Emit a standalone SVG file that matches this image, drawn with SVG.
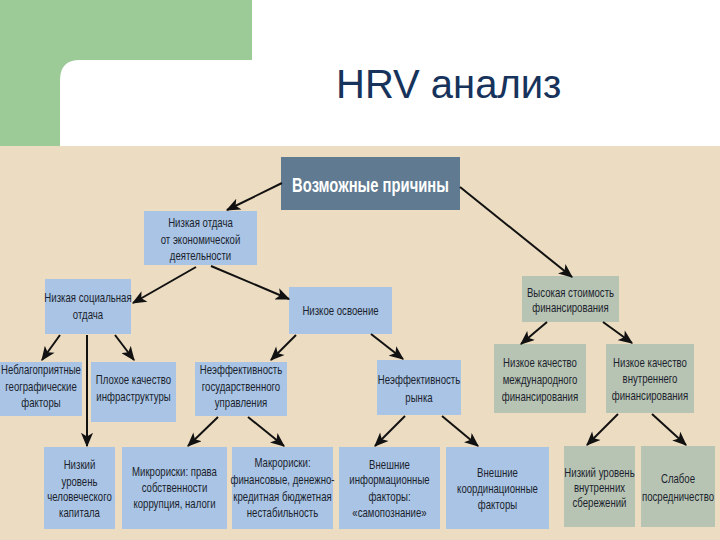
<svg xmlns="http://www.w3.org/2000/svg" width="720" height="540" viewBox="0 0 720 540">
<style>
.bg{fill:#ecdcc2}
.b{fill:#a9c4e4}
.g{fill:#b8c4b3}
.top{fill:#5f7a91}
.t{font-family:"Liberation Sans",Arial,sans-serif;font-size:13px;fill:#1b1f2e;text-anchor:middle}
.tt{font-family:"Liberation Sans",Arial,sans-serif;font-size:20px;font-weight:bold;fill:#ffffff;text-anchor:middle}
.title{font-family:"Liberation Sans",Arial,sans-serif;font-size:40px;fill:#17335c}
.c line{stroke:#111;stroke-width:2;marker-end:url(#ah)}
</style>
<defs>
<marker id="ah" viewBox="0 0 12 10" refX="11" refY="5" markerWidth="15" markerHeight="12" orient="auto" markerUnits="userSpaceOnUse">
<path d="M0,0 L12,5 L0,10 L3,5 z" fill="#111"/>
</marker>
</defs>
<rect x="0" y="0" width="720" height="540" fill="#ffffff"/>
<rect x="0" y="0" width="252" height="147" fill="#9ccb98"/>
<path d="M60,147 V80 Q60,60 80,60 H720 V147 Z" fill="#ffffff"/>
<rect class="bg" x="0" y="146" width="720" height="394"/>
<text class="title" x="336" y="98">HRV анализ</text>

<g id="n0"><rect class="top" x="281" y="157" width="179" height="53"/><g transform="translate(370.5 0) scale(0.74 1)"><text class="tt" x="0" y="192">Возможные причины</text></g></g>
<g id="n1"><rect class="b" x="144" y="211" width="113" height="54"/><g transform="translate(200.5 0) scale(0.74 1)"><text class="t" x="0" y="227">Низкая отдача</text><text class="t" x="0" y="244">от экономической</text><text class="t" x="0" y="260">деятельности</text></g></g>
<g id="n2"><rect class="b" x="45" y="279" width="86" height="55"/><g transform="translate(88 0) scale(0.74 1)"><text class="t" x="0" y="302">Низкая социальная</text><text class="t" x="0" y="319">отдача</text></g></g>
<g id="n3"><rect class="b" x="289" y="287" width="103" height="47"/><g transform="translate(340.5 0) scale(0.74 1)"><text class="t" x="0" y="315">Низкое освоение</text></g></g>
<g id="n4"><rect class="g" x="522" y="276" width="97" height="46"/><g transform="translate(570.5 0) scale(0.74 1)"><text class="t" x="0" y="297">Высокая стоимость</text><text class="t" x="0" y="312">финансирования</text></g></g>
<g id="n5"><rect class="b" x="0" y="362" width="82" height="54"/><g transform="translate(41 0) scale(0.74 1)"><text class="t" x="0" y="374">Неблагоприятные</text><text class="t" x="0" y="391">географические</text><text class="t" x="0" y="407">факторы</text></g></g>
<g id="n6"><rect class="b" x="91" y="362" width="85" height="60"/><g transform="translate(133.5 0) scale(0.74 1)"><text class="t" x="0" y="384">Плохое качество</text><text class="t" x="0" y="401">инфраструктуры</text></g></g>
<g id="n7"><rect class="b" x="195" y="362" width="92" height="54"/><g transform="translate(241 0) scale(0.74 1)"><text class="t" x="0" y="374">Неэффективность</text><text class="t" x="0" y="391">государственного</text><text class="t" x="0" y="407">управления</text></g></g>
<g id="n8"><rect class="b" x="377" y="360" width="84" height="55"/><g transform="translate(419 0) scale(0.74 1)"><text class="t" x="0" y="384">Неэффективность</text><text class="t" x="0" y="402">рынка</text></g></g>
<g id="n9"><rect class="g" x="494" y="344" width="92" height="69"/><g transform="translate(540 0) scale(0.74 1)"><text class="t" x="0" y="367">Низкое качество</text><text class="t" x="0" y="384">международного</text><text class="t" x="0" y="401">финансирования</text></g></g>
<g id="n10"><rect class="g" x="606" y="344" width="88" height="69"/><g transform="translate(650 0) scale(0.74 1)"><text class="t" x="0" y="367">Низкое качество</text><text class="t" x="0" y="383">внутреннего</text><text class="t" x="0" y="400">финансирования</text></g></g>
<g id="n11"><rect class="b" x="44" y="447" width="71" height="82"/><g transform="translate(79.5 0) scale(0.74 1)"><text class="t" x="0" y="469">Низкий</text><text class="t" x="0" y="486">уровень</text><text class="t" x="0" y="501">человеческого</text><text class="t" x="0" y="517">капитала</text></g></g>
<g id="n12"><rect class="b" x="122" y="447" width="105" height="82"/><g transform="translate(174.5 0) scale(0.74 1)"><text class="t" x="0" y="476">Микрориски: права</text><text class="t" x="0" y="492">собственности</text><text class="t" x="0" y="508">коррупция, налоги</text></g></g>
<g id="n13"><rect class="b" x="232" y="447" width="101" height="82"/><g transform="translate(282.5 0) scale(0.74 1)"><text class="t" x="0" y="467">Макрориски:</text><text class="t" x="0" y="484">финансовые, денежно-</text><text class="t" x="0" y="501">кредитная бюджетная</text><text class="t" x="0" y="517">нестабильность</text></g></g>
<g id="n14"><rect class="b" x="339" y="447" width="101" height="82"/><g transform="translate(389.5 0) scale(0.74 1)"><text class="t" x="0" y="469">Внешние</text><text class="t" x="0" y="484">информационные</text><text class="t" x="0" y="501">факторы:</text><text class="t" x="0" y="517">«самопознание»</text></g></g>
<g id="n15"><rect class="b" x="446" y="447" width="103" height="82"/><g transform="translate(497.5 0) scale(0.74 1)"><text class="t" x="0" y="477">Внешние</text><text class="t" x="0" y="493">координационные</text><text class="t" x="0" y="509">факторы</text></g></g>
<g id="n16"><rect class="g" x="564" y="446" width="71" height="81"/><g transform="translate(599.5 0) scale(0.74 1)"><text class="t" x="0" y="477">Низкий уровень</text><text class="t" x="0" y="492">внутренних</text><text class="t" x="0" y="507">сбережений</text></g></g>
<g id="n17"><rect class="g" x="641" y="446" width="74" height="81"/><g transform="translate(678 0) scale(0.74 1)"><text class="t" x="0" y="483">Слабое</text><text class="t" x="0" y="501">посредничество</text></g></g>

<g id="connectors" class="c">
<line x1="282" y1="183" x2="227" y2="210"/>
<line x1="460" y1="187" x2="572" y2="277"/>
<line x1="196" y1="267" x2="133" y2="303"/>
<line x1="211" y1="266" x2="289" y2="299"/>
<line x1="296" y1="335" x2="271" y2="360"/>
<line x1="371" y1="334" x2="403" y2="359"/>
<line x1="60" y1="335" x2="42" y2="360"/>
<line x1="87" y1="335" x2="87" y2="446"/>
<line x1="115" y1="335" x2="134" y2="360"/>
<line x1="218" y1="417" x2="188" y2="446"/>
<line x1="248" y1="417" x2="284" y2="446"/>
<line x1="405" y1="416" x2="375" y2="446"/>
<line x1="442" y1="416" x2="478" y2="446"/>
<line x1="547" y1="322" x2="521" y2="344"/>
<line x1="603" y1="322" x2="632" y2="343"/>
<line x1="618" y1="414" x2="587" y2="445"/>
<line x1="652" y1="414" x2="686" y2="445"/>
</g>
</svg>
